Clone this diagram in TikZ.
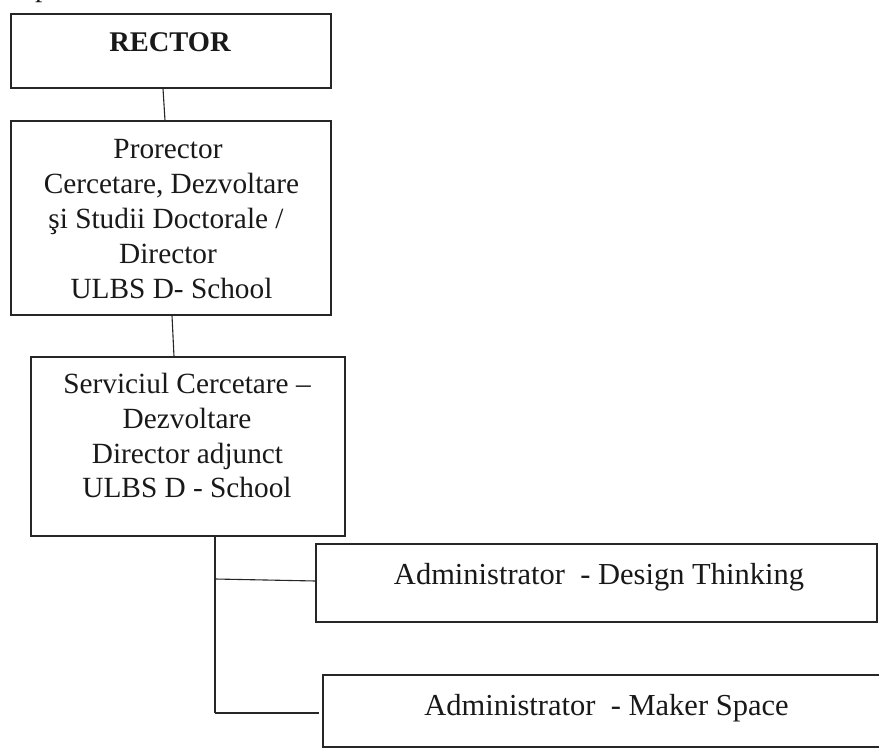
\documentclass[tikz,border=0pt]{standalone}
\usepackage{fontspec}
\setmainfont{Liberation Serif}
\begin{document}
\begin{tikzpicture}[x=1pt,y=-1pt,
  box/.style={draw=black!85, line width=1.1pt, inner sep=0pt, rectangle},
  lft/.style={anchor=base, inner sep=0pt, text=black!90, font=\fontsize{29.3}{35}\selectfont},
  rgt/.style={anchor=base, inner sep=0pt, text=black!90, font=\fontsize{30.5}{36}\selectfont},
  conn/.style={draw=black!85, line width=1.1pt}]
\useasboundingbox (0,0) rectangle (879,749);
\fill[white] (0,0) rectangle (879,749);
% fragment of text above
\node[lft, anchor=base west] (frag) at (35,-3.5) {p};
% boxes
\node[box, minimum width=320pt, minimum height=74pt] (rector) at (171,51) {};
\node[box, minimum width=320pt, minimum height=194pt] (pro) at (171,218) {};
\node[box, minimum width=314pt, minimum height=179pt] (serv) at (188,446.5) {};
\node[box, minimum width=561pt, minimum height=78pt] (dt) at (596.5,583) {};
\node[box, minimum width=567pt, minimum height=72pt] (ms) at (606.5,711) {};
% texts
\node[lft, font=\bfseries\fontsize{28.5}{35}\selectfont] (trector) at (170,52) {RECTOR};
\node[lft] (p1) at (168,159) {Prorector};
\node[lft] (p2) at (171.5,194) {Cercetare, Dezvoltare};
\node[lft] (p3) at (166,228.5) {şi Studii Doctorale /};
\node[lft] (p4) at (168,263.5) {Director};
\node[lft] (p5) at (171.5,298.5) {ULBS D- School};
\node[lft] (s1) at (187,393) {Serviciul Cercetare –};
\node[lft] (s2) at (187,428) {Dezvoltare};
\node[lft] (s3) at (187.5,463) {Director adjunct};
\node[lft] (s4) at (187,497.5) {ULBS D - School};
\node[rgt] (tdt) at (599,584) {Administrator\ \ - Design Thinking};
\node[rgt] (tms) at (606.5,715) {Administrator\ \ - Maker Space};
% connectors
\draw[conn] ([xshift=-8pt]rector.south) -- ([xshift=-6pt]pro.north);
\draw[conn] ([xshift=1pt]pro.south) -- ([xshift=-14pt]serv.north);
\coordinate (trunk) at ([xshift=27pt]serv.south);
\coordinate (tend) at (215,713);
\draw[conn] (trunk) -- (tend);
\draw[conn] (trunk |- 0,579) -- (dt.west |- 0,581);
\draw[conn] (tend) -- (319,713);
\end{tikzpicture}
\end{document}
